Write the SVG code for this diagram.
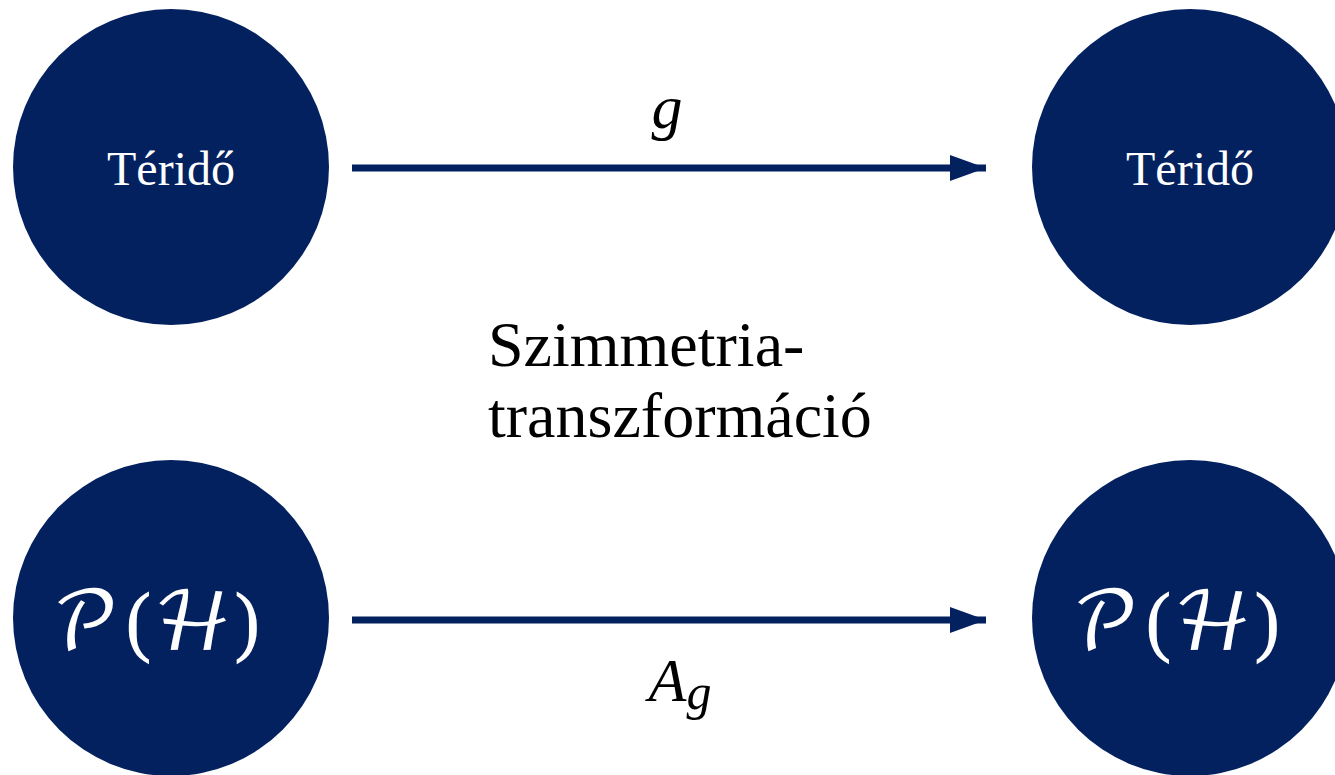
<svg xmlns="http://www.w3.org/2000/svg" width="1335" height="775" viewBox="0 0 1335 775">
<style>
.node{fill:#03215F}
.lbl{font-family:"Liberation Serif","Times New Roman",serif;fill:#fff;font-size:48px;text-anchor:middle}
.math{font-family:"DejaVu Math TeX Gyre","DejaVu Serif",serif;fill:#fff;font-size:80px;text-anchor:middle}
.mi{font-family:"Liberation Serif","DejaVu Serif",serif;font-style:italic;fill:#000;font-size:62px;text-anchor:middle}
.big{font-family:"Liberation Serif","Times New Roman",serif;fill:#000;font-size:64px}
.conn{stroke:#03215F;stroke-width:7;fill:none}
</style>
<defs>
<marker id="ah" markerUnits="userSpaceOnUse" markerWidth="40" markerHeight="30" refX="36" refY="13" orient="auto">
<path d="M0,0 L36,13 L0,26 Z" fill="#03215F"/>
</marker>
</defs>
<rect width="1335" height="775" fill="#fff"/>
<g id="n1"><circle class="node" cx="171" cy="167" r="158"/><text class="lbl" x="171" y="185">Téridő</text></g>
<g id="n2"><circle class="node" cx="1190" cy="167" r="158"/><text class="lbl" x="1190" y="185">Téridő</text></g>
<g id="n3"><circle class="node" cx="171" cy="618" r="158"/><text class="math" x="159" y="650">𝒫(ℋ)</text></g>
<g id="n4"><circle class="node" cx="1190" cy="618" r="158"/><text class="math" x="1179" y="650">𝒫(ℋ)</text></g>
<g id="connectors">
<line class="conn" x1="352" y1="168" x2="986" y2="168" marker-end="url(#ah)"/>
<line class="conn" x1="352" y1="620" x2="986" y2="620" marker-end="url(#ah)"/>
</g>
<text class="mi" x="667" y="128">g</text>
<text class="mi" x="680" y="701" font-size="66">A<tspan font-size="50" dy="8">g</tspan></text>
<text class="big" x="488" y="366">Szimmetria-</text>
<text class="big" x="488" y="437">transzformáció</text>
</svg>
